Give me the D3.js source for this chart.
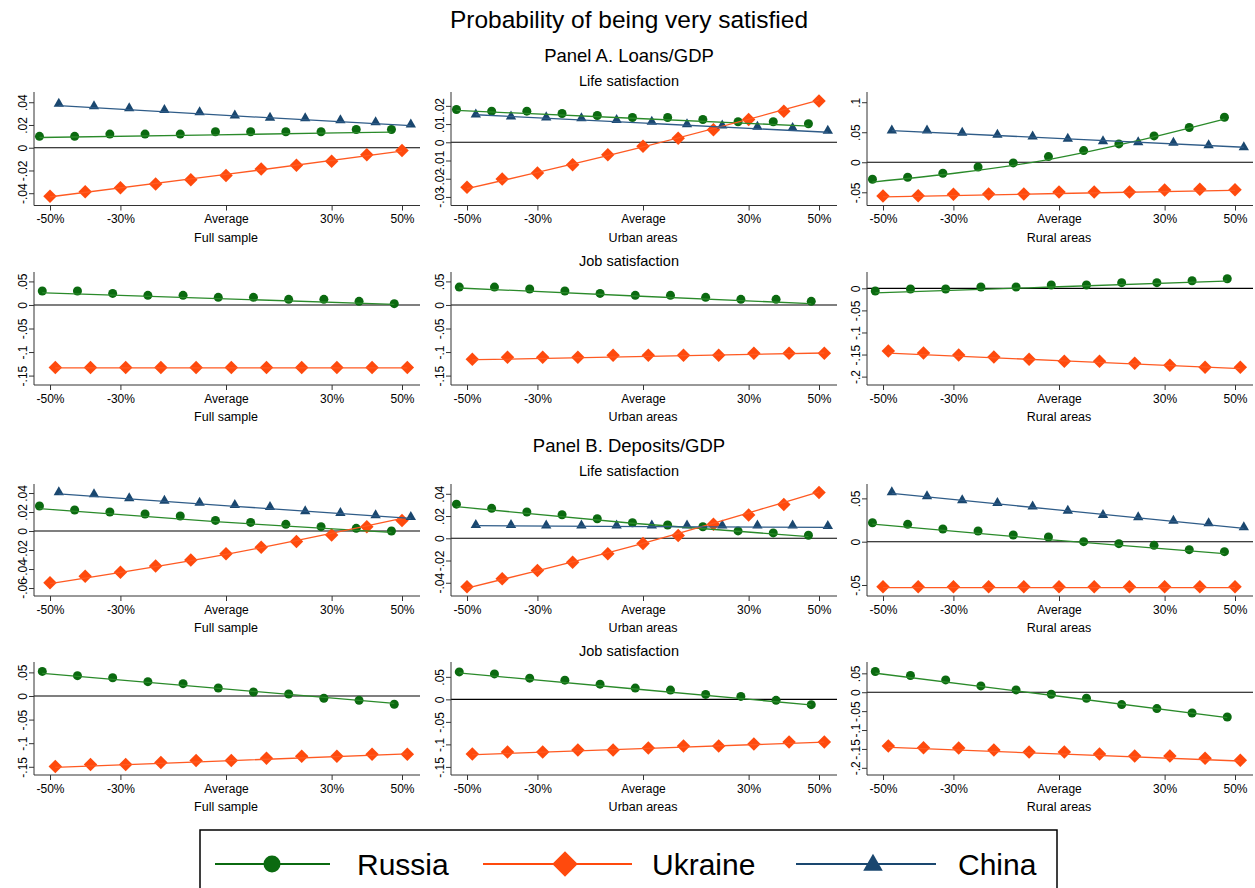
<!DOCTYPE html>
<html>
<head>
<meta charset="utf-8">
<script src="https://cdn.jsdelivr.net/npm/d3@7"></script>
<style>
  body { margin: 0; background: #fff; }
  text { font-family: "Liberation Sans", Arial, Helvetica, sans-serif; }
</style>
</head>
<body>
<div id="chart"></div>
<script>
// x categories: deviation of financial depth from the average (%)
var xCats = [-50, -40, -30, -20, -10, 0, 10, 20, 30, 40, 50];
var xTickValues = [-50, -30, 0, 30, 50];
var xTickLabels = ["-50%", "-30%", "Average", "30%", "50%"];
var sampleLabels = ["Full sample", "Urban areas", "Rural areas"];
var countries = ["Russia", "Ukraine", "China"];

// Panel A. Loans/GDP - life satisfaction (markers and fitted line start/mid/end)
var aLifeFull = {
  Russia:  [0.010, 0.010, 0.012, 0.012, 0.012, 0.014, 0.014, 0.014, 0.014, 0.016, 0.016],
  Ukraine: [-0.0426, -0.0388, -0.0353, -0.0318, -0.0282, -0.0244, -0.0188, -0.0153, -0.0118, -0.0062, -0.0024],
  China:   [0.0391, 0.0371, 0.0353, 0.0338, 0.0318, 0.0288, 0.0268, 0.0265, 0.0247, 0.0229, 0.0209]
};
var aLifeFullFit = { Russia: [0.009, 0.0113, 0.0138], Ukraine: [-0.0432, -0.0235, -0.003], China: [0.037, 0.028, 0.0194] };

var aLifeUrban = {
  Russia:  [0.018, 0.0171, 0.0171, 0.0158, 0.0147, 0.0136, 0.0136, 0.0125, 0.0113, 0.0113, 0.0102],
  Ukraine: [-0.0247, -0.0202, -0.0169, -0.0124, -0.0069, -0.0022, 0.0022, 0.0069, 0.0125, 0.0171, 0.0227],
  China:   [0.0156, 0.0145, 0.014, 0.0135, 0.0125, 0.0116, 0.0102, 0.0096, 0.0089, 0.0082, 0.0067]
};
var aLifeUrbanFit = { Russia: [0.0175, 0.0132, 0.0089], Ukraine: [-0.0255, -0.0025, 0.0231], China: [0.0151, 0.0103, 0.0055] };

var aLifeRural = {
  Russia:  [-0.0283, -0.025, -0.0183, -0.0078, -0.0011, 0.0094, 0.0194, 0.0306, 0.0439, 0.0578, 0.075],
  Ukraine: [-0.0561, -0.0556, -0.0533, -0.0528, -0.0528, -0.0494, -0.0494, -0.0494, -0.0461, -0.045, -0.0456],
  China:   [0.0539, 0.0539, 0.05, 0.0467, 0.0439, 0.04, 0.0361, 0.0344, 0.0333, 0.0294, 0.0261]
};
var aLifeRuralFit = { Russia: [-0.033, 0.0045, 0.072], Ukraine: [-0.0578, -0.052, -0.0467], China: [0.0528, 0.039, 0.025] };

// Panel A. Loans/GDP - job satisfaction
var aJobFull = {
  Russia:  [0.0296, 0.0296, 0.0246, 0.0204, 0.0204, 0.0162, 0.0162, 0.012, 0.012, 0.0077, 0.0028],
  Ukraine: [-0.133, -0.133, -0.133, -0.133, -0.133, -0.133, -0.133, -0.133, -0.133, -0.133, -0.133]
};
var aJobFullFit = { Russia: [0.026, 0.0135, 0.0014], Ukraine: [-0.1335, -0.1335, -0.1335] };

var aJobUrban = {
  Russia:  [0.038, 0.038, 0.0338, 0.0296, 0.0246, 0.0204, 0.0204, 0.0162, 0.012, 0.012, 0.0077],
  Ukraine: [-0.1155, -0.1113, -0.1113, -0.1113, -0.107, -0.107, -0.107, -0.107, -0.1028, -0.1028, -0.1028]
};
var aJobUrbanFit = { Russia: [0.036, 0.019, 0.0028], Ukraine: [-0.1165, -0.109, -0.102] };

var aJobRural = {
  Russia:  [-0.006, -0.0015, -0.0015, 0.003, 0.003, 0.0075, 0.0075, 0.0128, 0.0128, 0.0173, 0.0218],
  Ukraine: [-0.1421, -0.1466, -0.1511, -0.1556, -0.1609, -0.1654, -0.1654, -0.1699, -0.1744, -0.1789, -0.1789]
};
var aJobRuralFit = { Russia: [-0.0105, 0.003, 0.0165], Ukraine: [-0.1466, -0.1645, -0.182] };

// Panel B. Deposits/GDP - life satisfaction
var bLifeFull = {
  Russia:  [0.0263, 0.0221, 0.02, 0.0179, 0.0158, 0.0112, 0.0091, 0.007, 0.0046, 0.0028, 0],
  Ukraine: [-0.0544, -0.0477, -0.0435, -0.0368, -0.0305, -0.0239, -0.0172, -0.0109, -0.0042, 0.0046, 0.0112],
  China:   [0.0414, 0.0393, 0.0351, 0.0326, 0.0305, 0.0281, 0.026, 0.0214, 0.0196, 0.0172, 0.0154]
};
var bLifeFullFit = { Russia: [0.0235, 0.0098, -0.0014], Ukraine: [-0.0554, -0.0246, 0.0133], China: [0.039, 0.026, 0.0133] };

var bLifeUrban = {
  Russia:  [0.0307, 0.0269, 0.0236, 0.0212, 0.0176, 0.014, 0.0119, 0.0104, 0.0066, 0.0048, 0.0027],
  Ukraine: [-0.0436, -0.0364, -0.029, -0.0215, -0.014, -0.0048, 0.0024, 0.0125, 0.0209, 0.0304, 0.0412],
  China:   [0.0125, 0.0125, 0.012, 0.012, 0.012, 0.012, 0.012, 0.012, 0.012, 0.012, 0.0115]
};
var bLifeUrbanFit = { Russia: [0.0284, 0.0135, 0.0015], Ukraine: [-0.0448, -0.0045, 0.0418], China: [0.0113, 0.0105, 0.0098] };

var bLifeRural = {
  Russia:  [0.0219, 0.02, 0.0146, 0.0123, 0.0077, 0.0054, 0, -0.0023, -0.0042, -0.0092, -0.0115],
  Ukraine: [-0.0519, -0.0519, -0.0519, -0.0519, -0.0519, -0.0519, -0.0519, -0.0519, -0.0519, -0.0519, -0.0519],
  China:   [0.0577, 0.0531, 0.0485, 0.0454, 0.0412, 0.0365, 0.0315, 0.0288, 0.025, 0.0219, 0.0173]
};
var bLifeRuralFit = { Russia: [0.0204, 0.0025, -0.0138], Ukraine: [-0.053, -0.053, -0.053], China: [0.0558, 0.0355, 0.0154] };

// Panel B. Deposits/GDP - job satisfaction
var bJobFull = {
  Russia:  [0.0521, 0.043, 0.0387, 0.0303, 0.0261, 0.0169, 0.0085, 0.0042, -0.0049, -0.0092, -0.0176],
  Ukraine: [-0.1493, -0.1451, -0.1451, -0.1408, -0.1366, -0.1366, -0.1317, -0.1275, -0.1275, -0.1232, -0.1232]
};
var bJobFullFit = { Russia: [0.0479, 0.016, -0.0155], Ukraine: [-0.1514, -0.137, -0.1225] };

var bJobUrban = {
  Russia:  [0.061, 0.0566, 0.0471, 0.0426, 0.0338, 0.025, 0.0206, 0.011, 0.0066, -0.0022, -0.0118],
  Ukraine: [-0.1213, -0.1169, -0.1169, -0.1125, -0.1125, -0.1081, -0.1037, -0.1037, -0.0993, -0.0949, -0.0949]
};
var bJobUrbanFit = { Russia: [0.0588, 0.023, -0.0125], Ukraine: [-0.1228, -0.109, -0.0949] };

var bJobRural = {
  Russia:  [0.0548, 0.0442, 0.0327, 0.0168, 0.0062, -0.0053, -0.0159, -0.0327, -0.0433, -0.0548, -0.0654],
  Ukraine: [-0.1422, -0.1466, -0.1475, -0.1528, -0.1581, -0.1581, -0.1634, -0.1687, -0.1687, -0.1749, -0.1802]
};
var bJobRuralFit = { Russia: [0.0504, -0.008, -0.0671], Ukraine: [-0.1458, -0.164, -0.182] };

// y ticks for each panel
var ticksALife = [[-0.04, -0.02, 0, 0.02, 0.04], [-0.03, -0.02, -0.01, 0, 0.01, 0.02], [-0.05, 0, 0.05, 0.1]];
var ticksAJob = [[-0.15, -0.1, -0.05, 0, 0.05], [-0.15, -0.1, -0.05, 0, 0.05], [-0.2, -0.15, -0.1, -0.05, 0]];
var ticksBLife = [[-0.06, -0.04, -0.02, 0, 0.02, 0.04], [-0.04, -0.02, 0, 0.02, 0.04], [-0.05, 0, 0.05]];
var ticksBJob = [[-0.15, -0.1, -0.05, 0, 0.05], [-0.15, -0.1, -0.05, 0, 0.05], [-0.2, -0.15, -0.1, -0.05, 0, 0.05]];

// small horizontal shift Stata used so the series don't overlap
var offsetLife = { Russia: -3, Ukraine: 0, China: 2.5 };
var offsetJob = { Russia: -2.2, Ukraine: 1.5 };

var colors = { Russia: "#0b6a10", Ukraine: "#ff4a0d", China: "#1a476f" };
var lineColors = { Russia: "#2a8a2a", Ukraine: "#ff5a22", China: "#2f5c88" };

var svgWidth = 1255, svgHeight = 888;
var colLeft = [34, 451, 867];
var plotW = 386;
var rows = [ {top: 92, bottom: 205.5}, {top: 272, bottom: 385}, {top: 484, bottom: 596}, {top: 662, bottom: 775} ];

var panels = [
  {row: 0, col: 0, d: aLifeFull,  fit: aLifeFullFit,  off: offsetLife, dom: [-0.0508, 0.049],  ticks: ticksALife[0]},
  {row: 0, col: 1, d: aLifeUrban, fit: aLifeUrbanFit, off: offsetLife, dom: [-0.0347, 0.0276], ticks: ticksALife[1]},
  {row: 0, col: 2, d: aLifeRural, fit: aLifeRuralFit, off: offsetLife, dom: [-0.072, 0.117],   ticks: ticksALife[2]},
  {row: 1, col: 0, d: aJobFull,   fit: aJobFullFit,   off: offsetJob,  dom: [-0.170, 0.070],   ticks: ticksAJob[0]},
  {row: 1, col: 1, d: aJobUrban,  fit: aJobUrbanFit,  off: offsetJob,  dom: [-0.170, 0.070],   ticks: ticksAJob[1]},
  {row: 1, col: 2, d: aJobRural,  fit: aJobRuralFit,  off: offsetJob,  dom: [-0.219, 0.037],   ticks: ticksAJob[2]},
  {row: 2, col: 0, d: bLifeFull,  fit: bLifeFullFit,  off: offsetLife, dom: [-0.0684, 0.0495], ticks: ticksBLife[0]},
  {row: 2, col: 1, d: bLifeUrban, fit: bLifeUrbanFit, off: offsetLife, dom: [-0.0519, 0.0488], ticks: ticksBLife[1]},
  {row: 2, col: 2, d: bLifeRural, fit: bLifeRuralFit, off: offsetLife, dom: [-0.0627, 0.0666], ticks: ticksBLife[2]},
  {row: 3, col: 0, d: bJobFull,   fit: bJobFullFit,   off: offsetJob,  dom: [-0.1674, 0.072],  ticks: ticksBJob[0]},
  {row: 3, col: 1, d: bJobUrban,  fit: bJobUrbanFit,  off: offsetJob,  dom: [-0.168, 0.083],   ticks: ticksBJob[1]},
  {row: 3, col: 2, d: bJobRural,  fit: bJobRuralFit,  off: offsetJob,  dom: [-0.219, 0.080],   ticks: ticksBJob[2]}
];

var svg = d3.select("#chart").append("svg")
  .attr("width", svgWidth)
  .attr("height", svgHeight);

// Stata style labels: ".04", "-.02", "0"
function stataFmt(v) {
  if (Math.abs(v) < 1e-9) return "0";
  var s = String(+v.toFixed(3));
  return s.replace("0.", ".");
}

// marker shapes
var diamond = function(s) { return "M0," + (-s) + "L" + s + ",0L0," + s + "L" + (-s) + ",0Z"; };
var triangle = function(w) { var h = w * 0.87; return "M0," + (-h * 0.6) + "L" + (w / 2) + "," + (h * 0.4) + "L" + (-w / 2) + "," + (h * 0.4) + "Z"; };

function drawMarker(g, name, x, y, size) {
  if (name === "Russia") {
    g.append("circle").attr("cx", x).attr("cy", y).attr("r", size)
      .attr("fill", colors.Russia);
  } else if (name === "Ukraine") {
    g.append("path").attr("d", diamond(size * 1.5)).attr("transform", "translate(" + x + "," + y + ")")
      .attr("fill", colors.Ukraine);
  } else {
    g.append("path").attr("d", triangle(size * 2.3)).attr("transform", "translate(" + x + "," + y + ")")
      .attr("fill", colors.China);
  }
}

// titles
var cx = 629;
function heading(txt, y, size) {
  svg.append("text").attr("x", cx).attr("y", y).attr("text-anchor", "middle")
    .style("font-size", size + "px").style("fill", "#000").text(txt);
}
heading("Probability of being very satisfied", 28, 24.5);
heading("Panel A. Loans/GDP", 62, 18.5);
heading("Life satisfaction", 86, 14.5);
heading("Job satisfaction", 266, 14.5);
heading("Panel B. Deposits/GDP", 452, 18.5);
heading("Life satisfaction", 476, 14.5);
heading("Job satisfaction", 656, 14.5);

panels.forEach(function(p) {
  var r = rows[p.row];
  var x0 = colLeft[p.col];
  var g = svg.append("g").attr("transform", "translate(" + x0 + ",0)");

  var x = d3.scaleLinear().domain([-54.55, 55.11]).range([0, plotW]);
  var y = d3.scaleLinear().domain(p.dom).range([r.bottom, r.top]);

  // zero reference line
  g.append("line")
    .attr("x1", 0).attr("x2", plotW)
    .attr("y1", y(0)).attr("y2", y(0))
    .attr("stroke", "#000").attr("stroke-width", 1.1);

  // y axis
  var yAxis = d3.axisLeft(y).tickValues(p.ticks).tickSize(5).tickFormat(stataFmt);
  var ya = g.append("g").call(yAxis);
  ya.select(".domain").attr("d", "M0," + r.top + "V" + r.bottom).attr("stroke", "#333");
  ya.selectAll(".tick line").attr("stroke", "#333");
  ya.selectAll(".tick text")
    .attr("x", null).attr("dy", null)
    .attr("transform", "translate(-7,0) rotate(-90)")
    .attr("text-anchor", "middle")
    .style("font-size", "12px").style("fill", "#000");

  // x axis
  var xAxis = d3.axisBottom(x).tickValues(xTickValues).tickSize(5)
    .tickFormat(function(d, i) { return xTickLabels[i]; });
  var xa = g.append("g").attr("transform", "translate(0," + r.bottom + ")").call(xAxis);
  xa.select(".domain").attr("d", "M0,0H" + plotW).attr("stroke", "#333");
  xa.selectAll(".tick line").attr("stroke", "#333");
  xa.selectAll(".tick text").attr("y", 9).attr("dy", "0.71em")
    .style("font-size", "12px").style("fill", "#000");

  g.append("text")
    .attr("x", x(0)).attr("y", r.bottom + 36)
    .attr("text-anchor", "middle")
    .style("font-size", "12.5px").style("fill", "#000")
    .text(sampleLabels[p.col]);

  var present = countries.filter(function(c) { return p.d[c]; });

  // markers
  present.forEach(function(c) {
    p.d[c].forEach(function(v, i) {
      drawMarker(g, c, x(xCats[i] + p.off[c]), y(v), 4.5);
    });
  });

  // fitted lines
  present.forEach(function(c) {
    var fx = [xCats[0], 0, xCats[xCats.length - 1]].map(function(v) { return v + p.off[c]; });
    var pts = p.fit[c].map(function(v, i) { return [x(fx[i]), y(v)]; });
    g.append("path")
      .attr("d", d3.line().curve(d3.curveNatural)(pts))
      .attr("fill", "none")
      .attr("stroke", lineColors[c])
      .attr("stroke-width", 1.3);
  });
});

// legend
var leg = svg.append("g");
leg.append("rect")
  .attr("x", 200).attr("y", 830).attr("width", 857).attr("height", 80)
  .attr("fill", "#fff").attr("stroke", "#000").attr("stroke-width", 1.5);

var legendItems = [
  {name: "Russia",  x1: 215, x2: 330, mx: 272, tx: 357},
  {name: "Ukraine", x1: 483, x2: 632, mx: 565, tx: 652},
  {name: "China",   x1: 796, x2: 936, mx: 873, tx: 958}
];
var legY = 864;
legendItems.forEach(function(it) {
  leg.append("line")
    .attr("x1", it.x1).attr("x2", it.x2).attr("y1", legY).attr("y2", legY)
    .attr("stroke", colors[it.name]).attr("stroke-width", 2.2);
  drawMarker(leg, it.name, it.mx, legY, 8.5);
  leg.append("text")
    .attr("x", it.tx).attr("y", legY + 11)
    .style("font-size", "30px").style("fill", "#000")
    .text(it.name);
});
</script>
</body>
</html>
